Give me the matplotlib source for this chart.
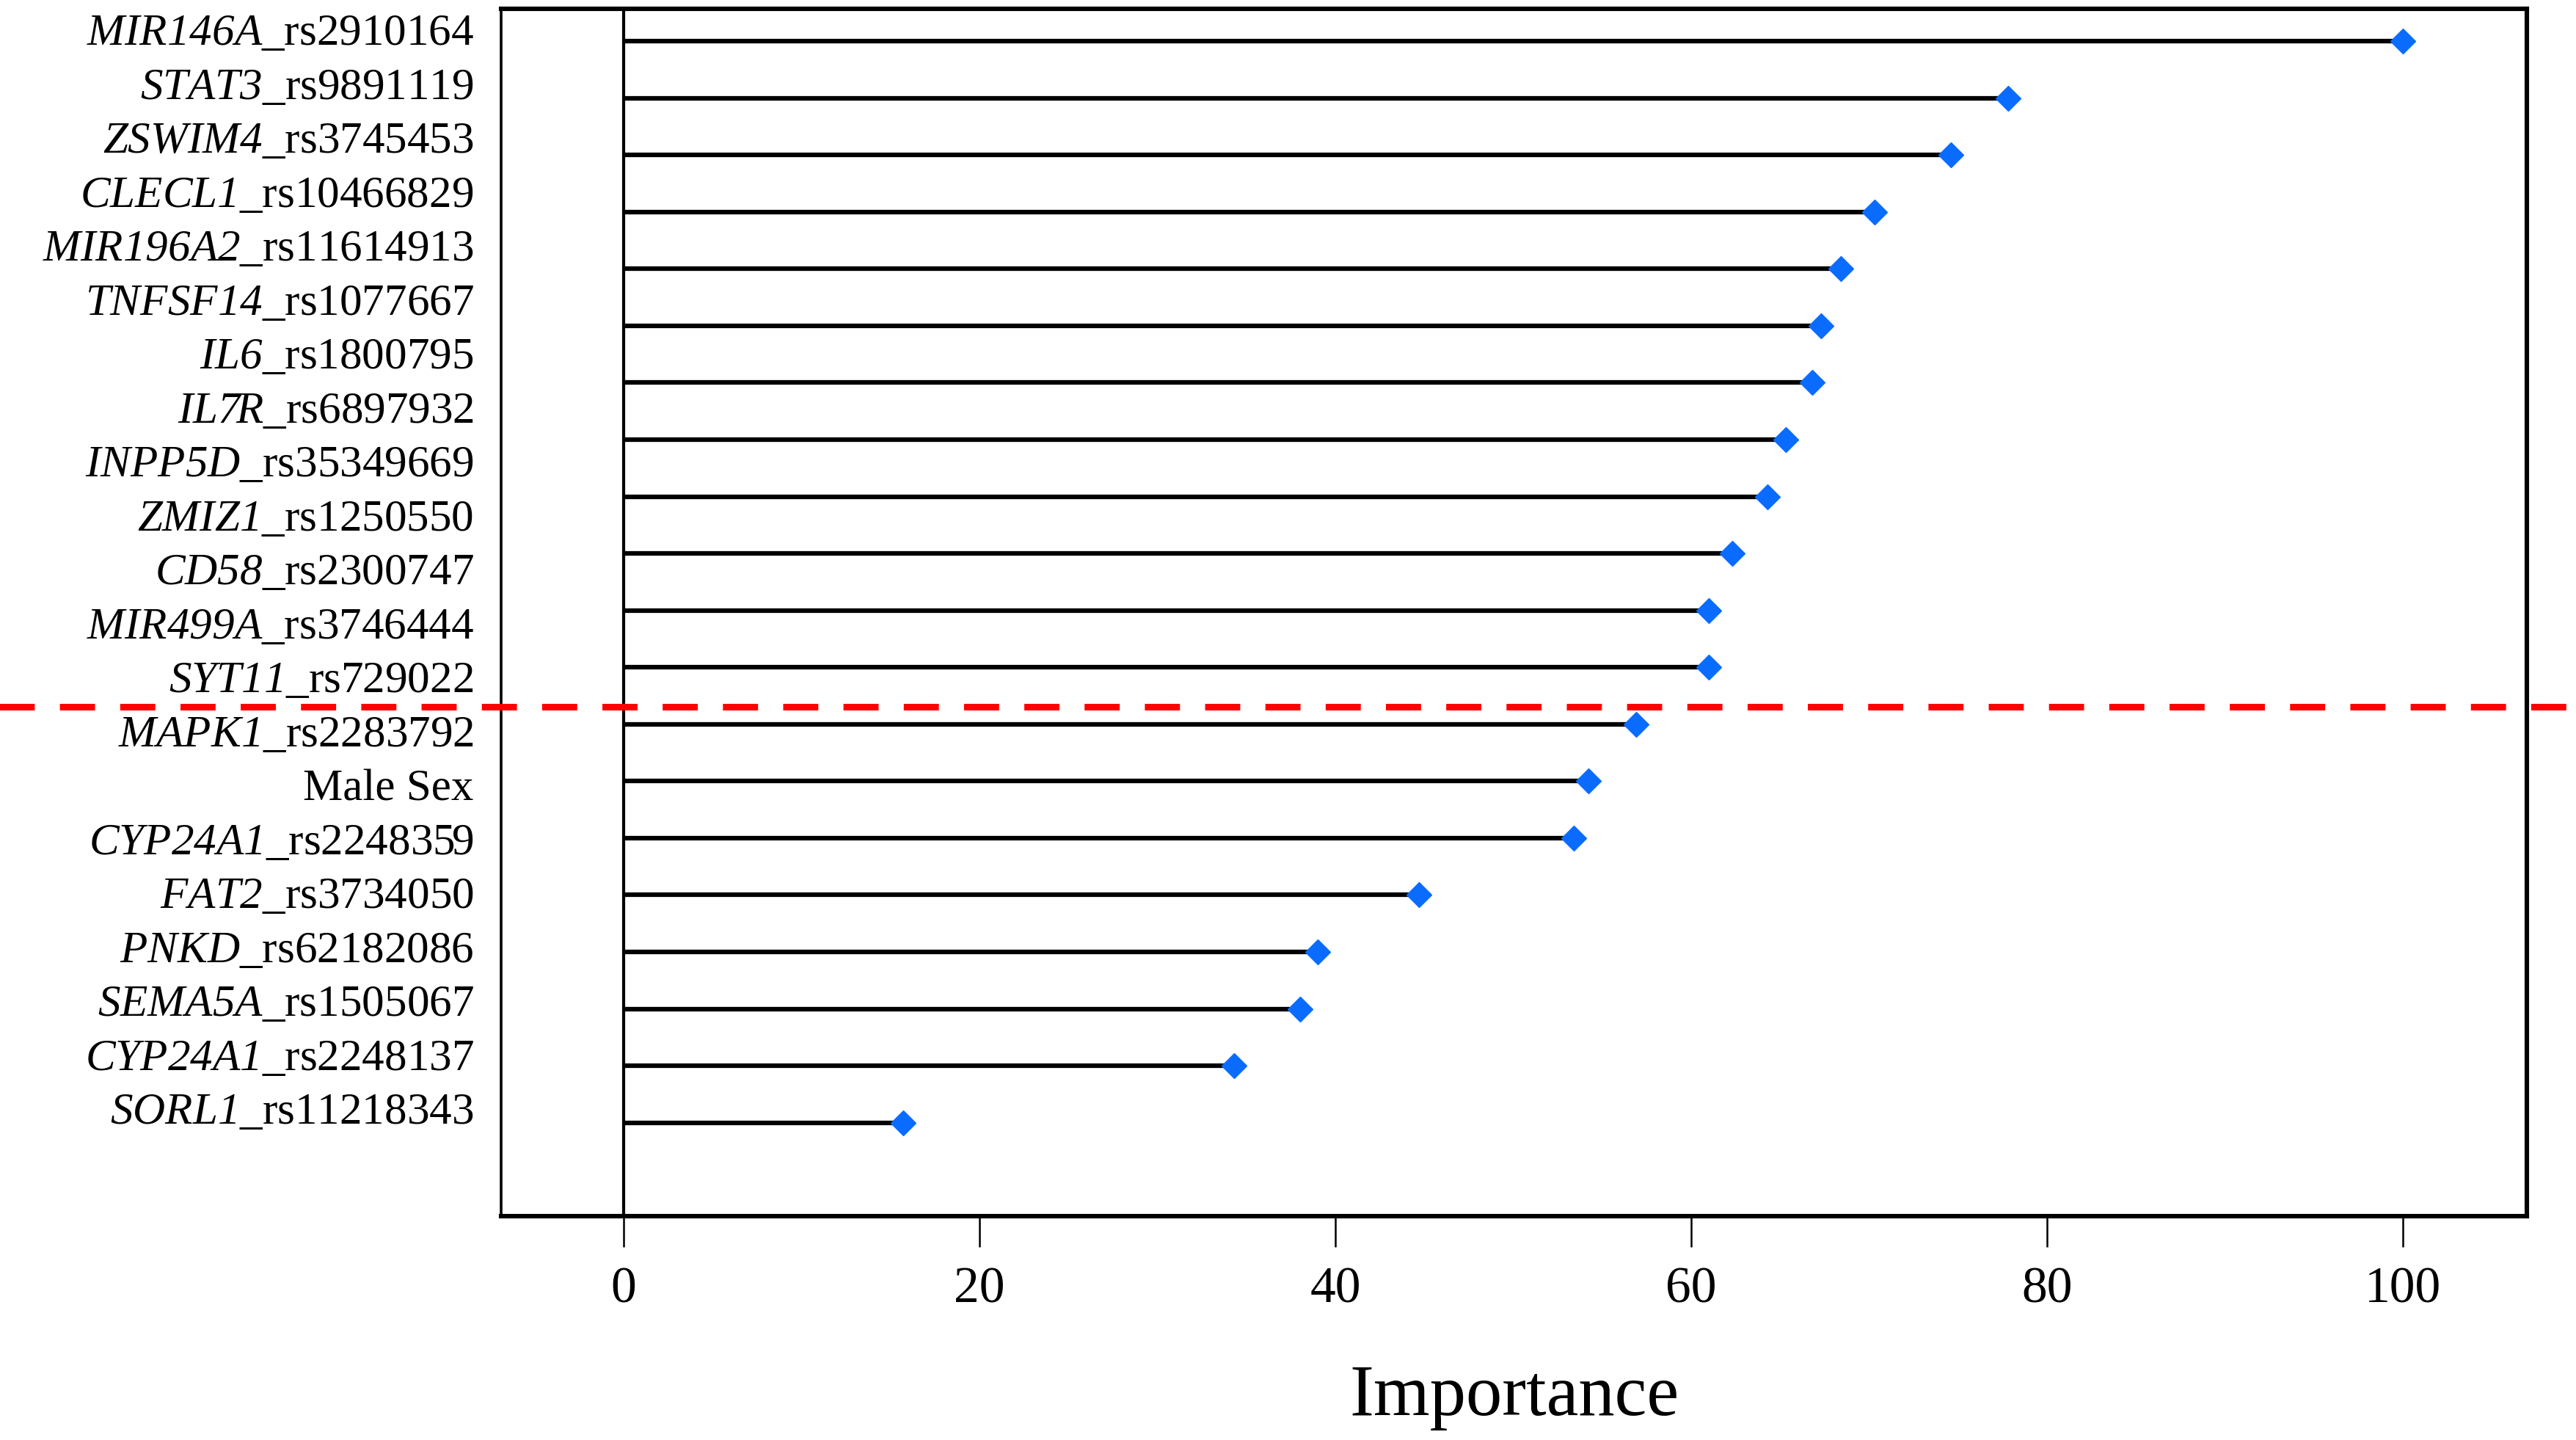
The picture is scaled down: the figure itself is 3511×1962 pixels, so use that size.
import numpy as np
import matplotlib
matplotlib.use("Agg")
import matplotlib.pyplot as plt

# labels as printed down the left side (21 of them)
labels = [
    ("MIR146A", "_rs2910164"),
    ("STAT3", "_rs9891119"),
    ("ZSWIM4", "_rs3745453"),
    ("CLECL1", "_rs10466829"),
    ("MIR196A2", "_rs11614913"),
    ("TNFSF14", "_rs1077667"),
    ("IL6", "_rs1800795"),
    ("IL7R", "_rs6897932"),
    ("INPP5D", "_rs35349669"),
    ("ZMIZ1", "_rs1250550"),
    ("CD58", "_rs2300747"),
    ("MIR499A", "_rs3746444"),
    ("SYT11", "_rs729022"),
    ("MAPK1", "_rs2283792"),
    ("", "Male Sex"),
    ("CYP24A1", "_rs2248359"),
    ("FAT2", "_rs3734050"),
    ("PNKD", "_rs62182086"),
    ("SEMA5A", "_rs1505067"),
    ("CYP24A1", "_rs2248137"),
    ("SORL1", "_rs11218343"),
]

# importance values drawn as lollipops (20 of them in the picture)
importance = [100.0, 77.8, 74.6, 70.3, 68.4, 67.3, 66.8, 65.3, 64.3, 62.3,
              61.0, 61.0, 56.9, 54.2, 53.4, 44.7, 39.0, 38.0, 34.3, 15.7]

x_ticks = [0, 20, 40, 60, 80, 100]
cutoff_label_pos = 12.56

plt.rcParams['font.family'] = ['Liberation Serif', 'DejaVu Serif']
# gene names go through mathtext; make its roman font italic so digits slant too
plt.rcParams['mathtext.fontset'] = 'custom'
plt.rcParams['mathtext.rm'] = 'Liberation Serif:italic'
plt.rcParams['mathtext.it'] = 'Liberation Serif:italic'


def make_label(gene, rest):
    if gene == "":
        return rest
    return "$\\mathrm{" + gene + "}$" + rest


def main():
    fig = plt.figure(figsize=(35.12, 19.62), dpi=100)
    ax = fig.add_axes([0.1945, 0.1555, 0.7862, 0.8386])

    rows = np.arange(len(importance))
    ax.hlines(rows, 0, importance, color='black', lw=4.5, zorder=2)
    ax.plot(importance, rows, 'D', ms=17, color='#0a6cff', mec='#0a6cff', zorder=3)
    ax.axvline(0, color='black', lw=3.0, zorder=2)

    ax.set_xlim(-6.89, 106.97)
    ax.set_ylim(20.64, -0.574)
    ax.set_yticks([])
    ax.set_xticks(x_ticks)
    ax.tick_params(axis='x', direction='out', length=30, width=1.8, pad=20,
                   labelsize=50)
    for side in ['top', 'right', 'bottom']:
        ax.spines[side].set_linewidth(4.4)
    ax.spines['left'].set_linewidth(2.6)

    ax.set_xlabel("Importance", fontsize=71, va='center')
    ax.xaxis.set_label_coords(0.5, -0.150)

    # the text column sits on its own spacing, so give it its own y scale
    ax2 = ax.twinx()
    ax2.set_ylim(22.0, -0.388)
    ax2.yaxis.set_ticks_position('left')
    ax2.set_yticks(range(len(labels)))
    ax2.set_yticklabels([make_label(g, r) for g, r in labels])
    ax2.tick_params(axis='y', length=0, pad=27, labelsize=44)
    for side in ax2.spines:
        ax2.spines[side].set_visible(False)

    ax2.axhline(cutoff_label_pos, xmin=-0.25, xmax=1.03, color='#ff0000', lw=6.5,
                dashes=(5.3, 3.8), clip_on=False, zorder=5)

    fig.savefig("out.png", dpi=100)


if __name__ == "__main__":
    main()
